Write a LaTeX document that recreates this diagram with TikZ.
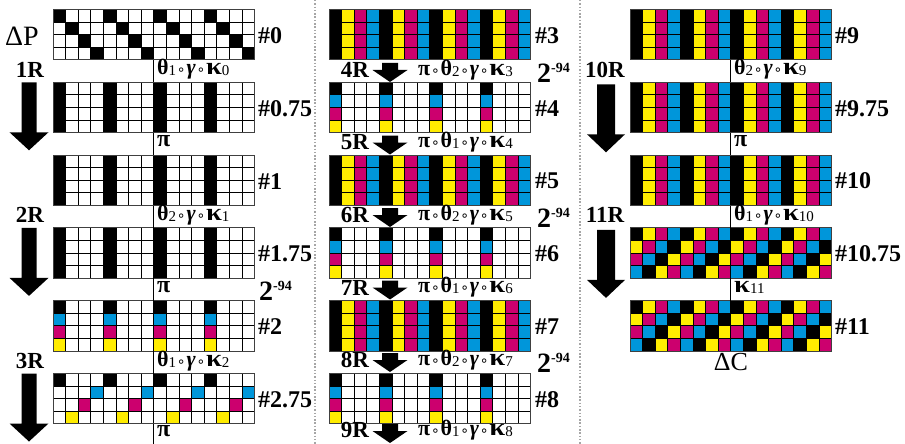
\documentclass[tikz,border=0pt]{standalone}
\usepackage{fontspec}
\setmainfont{Liberation Serif}
\newfontfamily\symf{DejaVu Sans}
\definecolor{col1}{RGB}{0,0,0}
\definecolor{col2}{RGB}{255,236,0}
\definecolor{col3}{RGB}{204,0,110}
\definecolor{col4}{RGB}{0,150,218}
\newcommand\fz[1]{\fontsize{#1}{#1}\selectfont}
\newcommand\dg[1]{{\fz{15}\mdseries\raisebox{-1pt}{#1}}}
\newcommand\cmp{\kern0.8pt{\symf\fz{14}\mdseries ∘}\kern0.8pt}
\newcommand\gam{\textit{γ}}
\newcommand\kap{\scalebox{1.3}[1.1]{κ}}
\newcommand\pw{{\fz{28}\bfseries 2}\raisebox{10pt}{\fz{14}\bfseries -94}}
\def\PA{ifthenelse(mod(\c,4)==\r,1,0)}
\def\PB{ifthenelse(mod(\c,4)==0,1,0)}
\def\PC{ifthenelse(mod(\c,4)==0,ifthenelse(\r==0,1,5-\r),0)}
\def\PD{ifthenelse(mod(\c+\r,4)==0,ifthenelse(\r==0,1,5-\r),0)}
\def\PE{mod(\c,4)+1}
\def\PF{mod(\c+\r,4)+1}
\newcommand\drawgrid[4]{%
  \node[gridbox] (#1) at (#2,#3) {};
  \foreach \c in {0,...,15}{\foreach \r in {0,...,3}{%
    \pgfmathtruncatemacro\k{#4}%
    \ifnum\k>0 \fill[fill=col\k] (#2+\c*12.6,#3+\r*12.6) rectangle ++(12.6,12.6);\fi}}
  \foreach \c in {1,...,15}{\draw[gline] (#2+\c*12.6,#3) -- ++(0,50.4);}
  \foreach \r in {1,...,3}{\draw[gline] (#2,#3+\r*12.6) -- ++(201.6,0);}
  \draw[gborder] (#2,#3) rectangle ++(201.6,50.4);
}
\newcommand\bigarr[4]{\fill (#1-#3,#2) -- (#1+#3,#2) -- (#1+#3,#2+50) -- (#1+#4,#2+50) -- (#1,#2+68) -- (#1-#4,#2+50) -- (#1-#3,#2+50) -- cycle;}
\newcommand\smarr[2]{\fill (#1-8,#2-8) -- (#1+8,#2-8) -- (#1+8,#2-1) -- (#1+17.5,#2-1) -- (#1,#2+11) -- (#1-17.5,#2-1) -- (#1-8,#2-1) -- cycle;}
\tikzset{
  gridbox/.style={anchor=north west,minimum width=201.6pt,minimum height=50.4pt,inner sep=0pt,outer sep=0pt},
  gline/.style={black,line width=0.85pt},
  gborder/.style={black!75,line width=1pt},
  conn/.style={black,line width=0.8pt},
  sep/.style={gray!70,line width=1.2pt,dash pattern=on 1.5pt off 1.8pt},
  hl/.style={anchor=west,inner sep=0pt,font=\fz{24}\bfseries},
  rl/.style={inner sep=0pt,font=\fz{23}\bfseries},
  fl/.style={anchor=west,inner sep=0pt,font=\fz{22}\bfseries},
  pl/.style={anchor=west,inner sep=0pt,font=\fz{24}\bfseries},
}
\begin{document}
\begin{tikzpicture}[x=1pt,y=-1pt]
\useasboundingbox (0,0) rectangle (905,444);
% separators
\draw[sep] (315,0) -- (315,444);
\draw[sep] (580,0) -- (580,444);
% ---------- left column ----------
\drawgrid{g0}{53}{9.5}{\PA}
\drawgrid{g075}{53}{82.3}{\PB}
\drawgrid{g1}{53}{155.1}{\PB}
\drawgrid{g175}{53}{227.9}{\PB}
\drawgrid{g2}{53}{300.7}{\PC}
\drawgrid{g275}{53}{373.5}{\PD}
\coordinate (lb) at (153.8,444);
\draw[conn] (g0.south) -- (g075.north);
\draw[conn] (g075.south) -- (g1.north);
\draw[conn] (g1.south) -- (g175.north);
\draw[conn] (g175.south) -- (g2.north);
\draw[conn] (g2.south) -- (g275.north);
\draw[conn] (g275.south) -- (lb);
\node[inner sep=0pt,font=\fz{28}] (dp) at (22,36) {ΔP};
\node[hl] (h0) at (258,35.5) {\#0};
\node[hl] (h075) at (258,108.3) {\#0.75};
\node[hl] (h1) at (258,181.1) {\#1};
\node[hl] (h175) at (258,253.9) {\#1.75};
\node[hl] (h2) at (258,326.7) {\#2};
\node[hl] (h275) at (258,399.5) {\#2.75};
\node[rl] (r1) at (30,69.5) {1R};
\node[rl] (r2) at (30,215.1) {2R};
\node[rl] (r3) at (30,360.7) {3R};
\bigarr{29}{82.3}{7.5}{19.5}
\bigarr{29}{227.9}{7.5}{19.5}
\bigarr{29}{373.5}{7.5}{19.5}
\node[fl] (f0) at (157,69.5) {θ\dg{1}\cmp\gam\cmp\kap\dg{0}};
\node[pl] (p0) at (157,141.5) {π};
\node[fl] (f1) at (157,215.1) {θ\dg{2}\cmp\gam\cmp\kap\dg{1}};
\node[pl] (p1) at (157,287.5) {π};
\node[fl] (f2) at (157,360.7) {θ\dg{1}\cmp\gam\cmp\kap\dg{2}};
\node[pl] (p2) at (157,431) {π};
\node[anchor=west,inner sep=0pt] (e0) at (259,291) {\pw};
% ---------- middle column ----------
\drawgrid{g3}{329}{9.5}{\PE}
\drawgrid{g4}{329}{82.3}{\PC}
\drawgrid{g5}{329}{155.1}{\PE}
\drawgrid{g6}{329}{227.9}{\PC}
\drawgrid{g7}{329}{300.7}{\PE}
\drawgrid{g8}{329}{373.5}{\PC}
\node[hl] (h3) at (535,35.5) {\#3};
\node[hl] (h4) at (535,108.3) {\#4};
\node[hl] (h5) at (535,181.1) {\#5};
\node[hl] (h6) at (535,253.9) {\#6};
\node[hl] (h7) at (535,326.7) {\#7};
\node[hl] (h8) at (535,399.5) {\#8};
\node[rl] (r4) at (355,70) {4R};
\node[rl] (r5) at (355,142.5) {5R};
\node[rl] (r6) at (355,215) {6R};
\node[rl] (r7) at (355,287.5) {7R};
\node[rl] (r8) at (355,360) {8R};
\node[rl] (r9) at (355,430) {9R};
\smarr{390}{71}
\smarr{390}{143.5}
\smarr{390}{216}
\smarr{390}{288.5}
\smarr{390}{361}
\smarr{390}{432}
\node[fl] (f3) at (418,70) {π\cmp θ\dg{2}\cmp\gam\cmp\kap\dg{3}};
\node[fl] (f4) at (418,142.5) {π\cmp θ\dg{1}\cmp\gam\cmp\kap\dg{4}};
\node[fl] (f5) at (418,215) {π\cmp θ\dg{2}\cmp\gam\cmp\kap\dg{5}};
\node[fl] (f6) at (418,287.5) {π\cmp θ\dg{1}\cmp\gam\cmp\kap\dg{6}};
\node[fl] (f7) at (418,360) {π\cmp θ\dg{2}\cmp\gam\cmp\kap\dg{7}};
\node[fl] (f8) at (418,430) {π\cmp θ\dg{1}\cmp\gam\cmp\kap\dg{8}};
\node[anchor=west,inner sep=0pt] (e1) at (537,73) {\pw};
\node[anchor=west,inner sep=0pt] (e2) at (537,218) {\pw};
\node[anchor=west,inner sep=0pt] (e3) at (537,363) {\pw};
% ---------- right column ----------
\drawgrid{g9}{630}{9.5}{\PE}
\drawgrid{g975}{630}{82.3}{\PE}
\drawgrid{g10}{630}{155.1}{\PE}
\drawgrid{g1075}{630}{227.9}{\PF}
\drawgrid{g11}{630}{300.7}{\PF}
\draw[conn] (g9.south) -- (g975.north);
\draw[conn] (g975.south) -- (g10.north);
\draw[conn] (g10.south) -- (g1075.north);
\draw[conn] (g1075.south) -- (g11.north);
\node[hl] (h9) at (835,35.5) {\#9};
\node[hl] (h975) at (835,108.3) {\#9.75};
\node[hl] (h10) at (835,181.1) {\#10};
\node[hl] (h1075) at (835,253.9) {\#10.75};
\node[hl] (h11) at (835,326.7) {\#11};
\node[rl] (r10) at (605,69.5) {10R};
\node[rl] (r11) at (605,215.1) {11R};
\bigarr{606}{84.3}{9}{19}
\bigarr{606}{229.9}{9}{19}
\node[fl] (f9) at (734,69.5) {θ\dg{2}\cmp\gam\cmp\kap\dg{9}};
\node[pl] (p9) at (734,141.5) {π};
\node[fl] (f10) at (734,215.1) {θ\dg{1}\cmp\gam\cmp\kap\dg{10}};
\node[fl] (k11) at (734,287.5) {\kap\dg{11}};
\node[inner sep=0pt,font=\fz{26}] (dc) at (731,362) {ΔC};
\end{tikzpicture}
\end{document}
